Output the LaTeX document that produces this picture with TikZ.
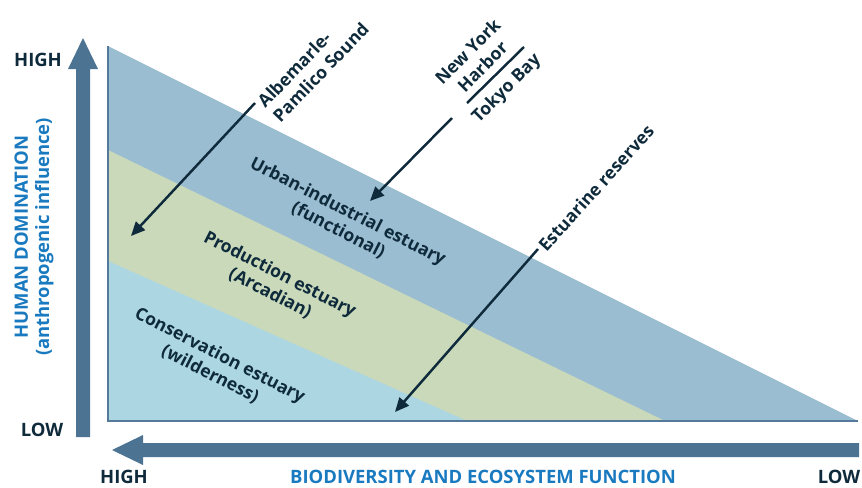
\documentclass[tikz,border=0pt]{standalone}
\usepackage{fontspec}
\setmainfont{Open Sans}
\usepackage{xcolor}
\usetikzlibrary{arrows.meta}
\definecolor{axisblue}{HTML}{4D7393}
\definecolor{edgeblue}{HTML}{55799A}
\definecolor{urbanfill}{HTML}{9BBDD1}
\definecolor{prodfill}{HTML}{C9D9BA}
\definecolor{consfill}{HTML}{ADD6E3}
\definecolor{inkdark}{HTML}{0E2A3B}
\definecolor{titleblue}{HTML}{1A7AC0}

\tikzset{
  lbl/.style={font=\bfseries\fontsize{10}{12}\selectfont, text=inkdark, inner sep=0pt},
  endlbl/.style={lbl, font=\bfseries\fontsize{10.5}{12}\selectfont},
  bandlbl/.style={lbl, align=center, rotate=-27},
  pointlbl/.style={lbl, rotate=45},
  pointer/.style={draw=inkdark, line width=1.4pt, -{Triangle[length=8pt,width=7pt]}},
  axislbl/.style={font=\bfseries\fontsize{10.5}{12}\selectfont, text=titleblue, inner sep=0pt, align=center}
}

\begin{document}
\begin{tikzpicture}[x=0.02cm, y=-0.02cm]
    \useasboundingbox (0,0) rectangle (862,487);

    % triangle with the three estuary bands
    \coordinate (apex) at (108,46);
    \coordinate (origin) at (108,421);
    \coordinate (far) at (858,421);
    \fill[urbanfill] (apex) -- (far) -- (origin) -- cycle;
    \fill[prodfill] (108,150) -- (665,421) -- (origin) -- cycle;
    \fill[consfill] (108,261) -- (467,421) -- (origin) -- cycle;
    \draw[edgeblue, line width=1.6pt] (apex) -- (origin) -- (far);

    % axis arrows
    \fill[axisblue] (76,437) -- (76,69) -- (68,69) -- (83,38) -- (98,69)
      -- (90,69) -- (90,437) -- cycle;
    \fill[axisblue] (859,443) -- (143,443) -- (143,435) -- (112,450)
      -- (143,465) -- (143,457) -- (859,457) -- cycle;

    % axis texts
    \node[endlbl] (yhigh) at (38,60) {HIGH};
    \node[endlbl] (ylow) at (42,430) {LOW};
    \node[endlbl] (xhigh) at (124,477) {HIGH};
    \node[endlbl] (xlow) at (839,477) {LOW};
    \node[axislbl] (xtitle) at (483,477) {BIODIVERSITY AND ECOSYSTEM FUNCTION};
    \node[axislbl, rotate=90] (ytitle) at (34,237)
      {HUMAN DOMINATION\\(anthropogenic influence)};

    % band names
    \node[bandlbl] (urban) at (343,221) {Urban-industrial estuary\\(functional)};
    \node[bandlbl] (production) at (275,284) {Production estuary\\(Arcadian)};
    \node[bandlbl] (conservation) at (215,365) {Conservation estuary\\(wilderness)};

    % examples pointing into the bands (rotate adds to the style's 45)
    \node[pointlbl, rotate=1, align=left] (albemarle) at (313,65)
      {Albemarle-\\Pamlico Sound};
    \node[pointlbl, align=center] (newyork) at (475,59) {New York\\Harbor};
    \node[pointlbl] (tokyo) at (507,89) {Tokyo Bay};
    \node[pointlbl, rotate=3] (reserves) at (596,188) {Estuarine reserves};
    \draw[inkdark, line width=1.4pt] (467,103) -- (524,47);

    \coordinate (albstart) at (255,103);
    \coordinate (albtip) at (131,236);
    \coordinate (nystart) at (452,118);
    \coordinate (nytip) at (370,201);
    \coordinate (resstart) at (538,249);
    \coordinate (restip) at (395,412);
    \draw[pointer] (albstart) -- (albtip);
    \draw[pointer] (nystart) -- (nytip);
    \draw[pointer] (resstart) -- (restip);
\end{tikzpicture}
\end{document}
